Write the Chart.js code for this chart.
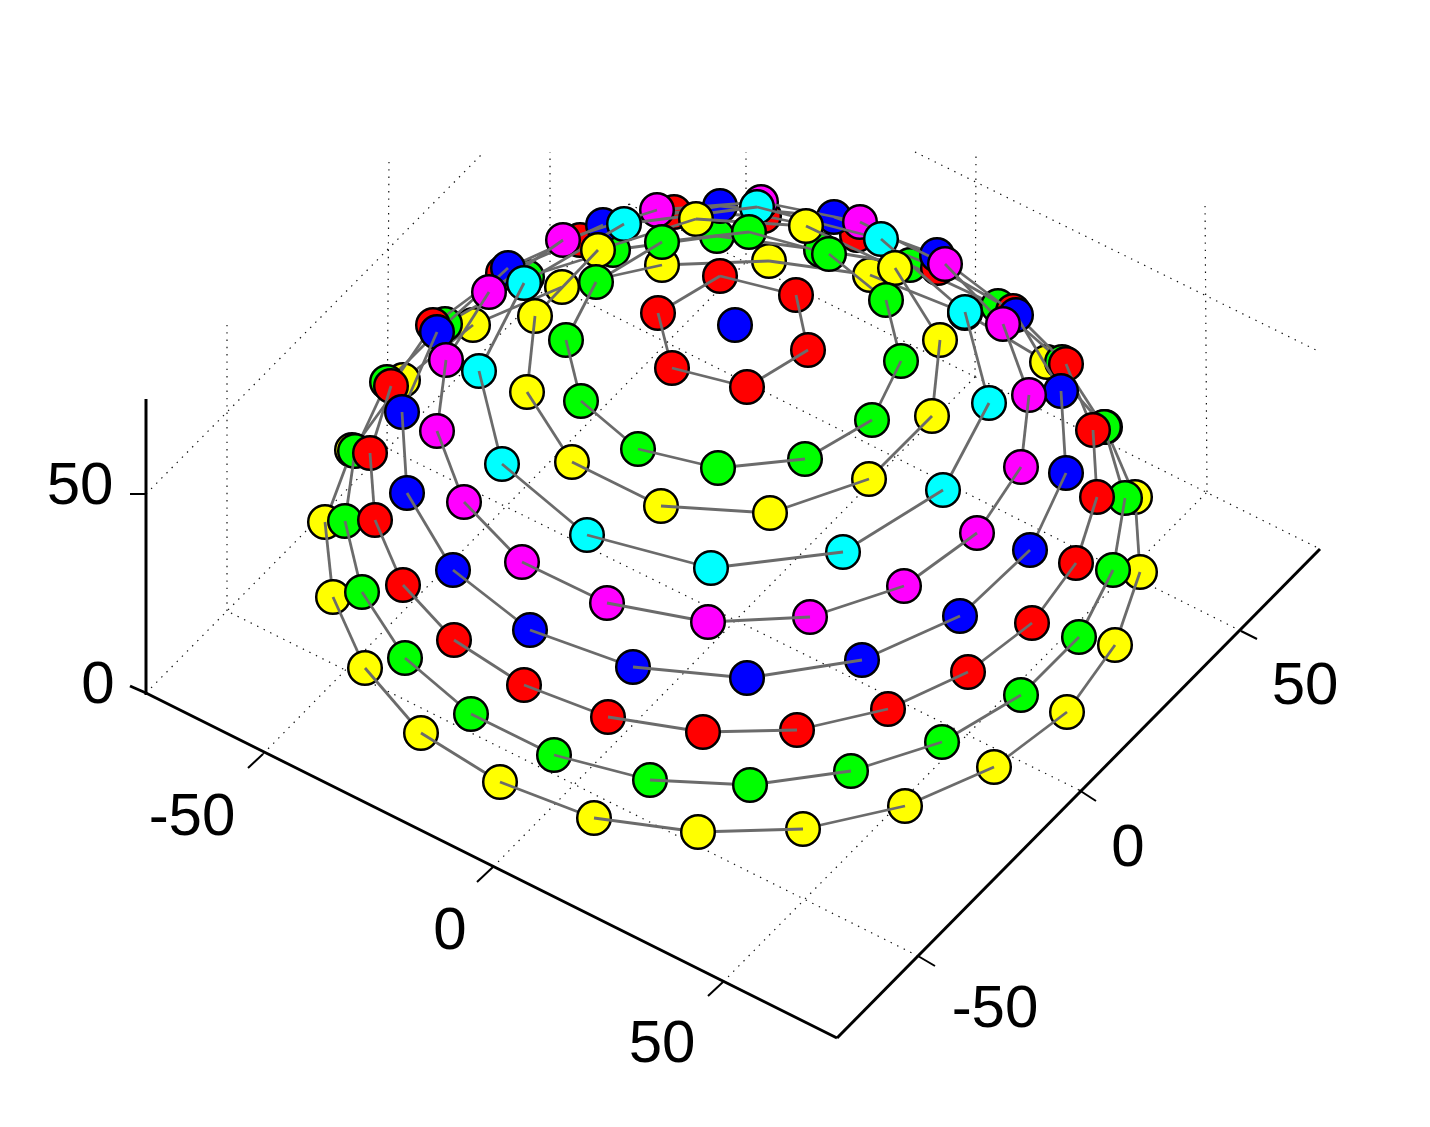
<!DOCTYPE html>
<html>
<head>
<meta charset="utf-8">
<title>Esfera 3D</title>
<style>
  html, body { margin: 0; padding: 0; background: #fff; }
  canvas { display: block; }
</style>
<script src="https://cdn.jsdelivr.net/npm/chart.js@4"></script>
</head>
<body>
<canvas id="grafico" width="1430" height="1127"></canvas>
<script>
// === DADOS (em unidades dos eixos x/y da folha) ===
const ring0X = [698, 803, 905, 994, 1067, 1115, 1140, 1135, 1105, 1047, 965, 870, 769, 662, 562, 473, 403, 352, 325, 333, 365, 421, 500, 594];
const ring0Y = [832, 829, 806, 767, 712, 645, 572, 497, 427, 362, 313, 275, 261, 265, 287, 325, 380, 450, 522, 597, 668, 733, 782, 818];
const ring1X = [750, 851, 942, 1021, 1079, 1113, 1125, 1104, 1062, 998, 910, 821, 717, 613, 527, 445, 387, 355, 345, 362, 405, 471, 554, 650];
const ring1Y = [785, 771, 742, 695, 637, 570, 498, 427, 362, 306, 265, 250, 236, 250, 277, 324, 382, 451, 521, 592, 658, 714, 755, 780];
const ring2X = [703, 797, 888, 968, 1032, 1076, 1097, 1093, 1066, 1013, 938, 857, 764, 674, 580, 503, 433, 391, 370, 375, 403, 454, 524, 608];
const ring2Y = [732, 730, 709, 672, 623, 563, 497, 430, 364, 311, 268, 235, 216, 212, 240, 273, 325, 386, 453, 520, 585, 640, 685, 717];
const ring3X = [747, 862, 960, 1030, 1066, 1061, 1016, 937, 834, 720, 603, 508, 437, 402, 407, 453, 530, 633];
const ring3Y = [678, 660, 616, 550, 473, 391, 315, 255, 217, 206, 225, 268, 332, 412, 493, 570, 630, 667];
const ring4X = [708, 810, 904, 977, 1021, 1029, 1003, 945, 860, 761, 657, 563, 489, 446, 437, 464, 522, 607];
const ring4Y = [622, 617, 586, 533, 467, 395, 324, 264, 222, 202, 210, 240, 292, 360, 431, 502, 562, 603];
const ring5X = [711, 843, 943, 989, 965, 881, 757, 624, 524, 479, 502, 587];
const ring5Y = [568, 552, 490, 403, 312, 239, 207, 224, 283, 371, 464, 535];
const ring6X = [770, 869, 932, 940, 895, 806, 696, 598, 535, 527, 572, 661];
const ring6Y = [513, 479, 416, 340, 268, 226, 219, 250, 316, 392, 462, 506];
const ring7X = [718, 805, 872, 901, 886, 829, 749, 662, 596, 566, 581, 638];
const ring7Y = [468, 459, 420, 361, 300, 254, 232, 242, 282, 340, 401, 449];
const ring8X = [747, 808, 796, 720, 658, 672];
const ring8Y = [387, 350, 295, 276, 313, 368];
const ring9X = [735];
const ring9Y = [325];

const ringsX = [ring0X, ring1X, ring2X, ring3X, ring4X, ring5X, ring6X, ring7X, ring8X, ring9X];
const ringsY = [ring0Y, ring1Y, ring2Y, ring3Y, ring4Y, ring5Y, ring6Y, ring7Y, ring8Y, ring9Y];
const ringCores = ["#ffff00", "#00ff00", "#ff0000", "#0000ff", "#ff00ff", "#00ffff", "#ffff00", "#00ff00", "#ff0000", "#0000ff"];
const ringLatitudes = [0, 10, 20, 30, 40, 50, 60, 70, 80, 90];

// eixos: canto esquerdo, canto de baixo, canto direito e topo do eixo z
const axisX = [146, 837, 1320];
const axisY = [693, 1038, 549];
const zAxisX = [146, 146];
const zAxisY = [399, 695];

// marcas dos eixos: [x1, y1, x2, y2]
const tickMarks = [
  [146, 494, 130, 494],
  [263, 754, 248, 768], [493, 867, 477, 882], [723, 982, 708, 996],
  [918, 956, 935, 966], [1079, 790, 1096, 801], [1241, 631, 1257, 639]
];

// grade pontilhada: [x1, y1, x2, y2]
const gridLines = [
  [146, 693, 629, 204], [629, 204, 1320, 549],
  [263, 754, 746, 262], [493, 867, 975, 377], [723, 982, 1207, 492],
  [918, 956, 227, 611], [1079, 790, 387, 448], [1241, 631, 550, 284],
  [227, 611, 227, 323], [387, 448, 389, 160], [550, 284, 550, 152],
  [746, 262, 746, 152], [975, 377, 976, 152], [1207, 492, 1205, 200],
  [146, 494, 484, 152], [915, 152, 1320, 352]
];

const tickLabels = ["-50", "0", "50", "-50", "0", "50", "50", "0"];
const tickLabelX = [192, 450, 662, 995, 1128, 1305, 80, 98];
const tickLabelY = [818, 932, 1045, 1010, 849, 687, 487, 686];

// === MONTAGEM DOS DATASETS ===
const camadas = [];

function addLine(x1, y1, x2, y2, cor, largura, tracejado) {
  camadas.push({
    type: "line",
    data: [{ x: x1, y: y1 }, { x: x2, y: y2 }],
    borderColor: cor,
    borderWidth: largura,
    borderDash: tracejado || [],
    pointRadius: 0,
    tension: 0,
    fill: false
  });
}

gridLines.forEach(g => addLine(g[0], g[1], g[2], g[3], "#111", 1.2, [1.4, 5.9]));
addLine(axisX[0], axisY[0], axisX[1], axisY[1], "#000", 3);
addLine(axisX[1], axisY[1], axisX[2], axisY[2], "#000", 3);
addLine(zAxisX[0], zAxisY[0], zAxisX[1], zAxisY[1], "#000", 3);
addLine(130, 686, 146, 693, "#000", 3);
tickMarks.forEach(t => addLine(t[0], t[1], t[2], t[3], "#000", 2));

// profundidade vista pela camera: os pontos de tras sao pintados primeiro
const CAMERA_COS = 0.72;
const RAIO = 408;
function profundidade(r, y) {
  return CAMERA_COS * y + RAIO * Math.sin(ringLatitudes[r] * Math.PI / 180);
}

const pontos = [];
ringsX.forEach((xs, r) => {
  xs.forEach((x, i) => {
    pontos.push({ r, i, x, y: ringsY[r][i], prof: profundidade(r, ringsY[r][i]) });
  });
});
pontos.sort((a, b) => a.prof - b.prof);

const RAIO_PONTO = 16.8;
const BORDA_PONTO = 2.5;

pontos.forEach(p => {
  camadas.push({
    type: "scatter",
    data: [{ x: p.x, y: p.y }],
    backgroundColor: ringCores[p.r],
    borderColor: "#000",
    borderWidth: BORDA_PONTO,
    pointRadius: RAIO_PONTO,
    pointHoverRadius: RAIO_PONTO
  });
  const n = ringsX[p.r].length;
  if (n < 2) return;
  // cada ponto liga aos vizinhos do anel que estao mais a frente
  [(p.i + 1) % n, (p.i + n - 1) % n].forEach(j => {
    const qx = ringsX[p.r][j];
    const qy = ringsY[p.r][j];
    if (profundidade(p.r, qy) > p.prof) addLine(p.x, p.y, qx, qy, "#6b6b6b", 2.8);
  });
});

// === ROTULOS DOS EIXOS ===
const rotulos = {
  id: "rotulos",
  afterDraw(chart) {
    const { ctx, scales } = chart;
    ctx.save();
    ctx.fillStyle = "#000";
    ctx.font = '60px "Liberation Sans"';
    ctx.textAlign = "center";
    ctx.textBaseline = "middle";
    tickLabels.forEach((t, i) => {
      ctx.fillText(t, scales.x.getPixelForValue(tickLabelX[i]), scales.y.getPixelForValue(tickLabelY[i]));
    });
    ctx.restore();
  }
};

// o Chart.js reserva esta folga em volta da area por causa do tamanho dos pontos
const FOLGA = RAIO_PONTO + BORDA_PONTO;

// === GRAFICO ===
new Chart(document.getElementById("grafico"), {
  type: "scatter",
  data: { datasets: camadas.reverse() }, // o Chart.js pinta do ultimo para o primeiro
  options: {
    responsive: false,
    animation: false,
    layout: { padding: 0 },
    plugins: { legend: { display: false }, tooltip: { enabled: false } },
    scales: {
      x: { type: "linear", min: FOLGA, max: 1430 - FOLGA, display: false },
      y: { type: "linear", min: FOLGA, max: 1127 - FOLGA, reverse: true, display: false }
    }
  },
  plugins: [rotulos]
});
</script>
</body>
</html>
